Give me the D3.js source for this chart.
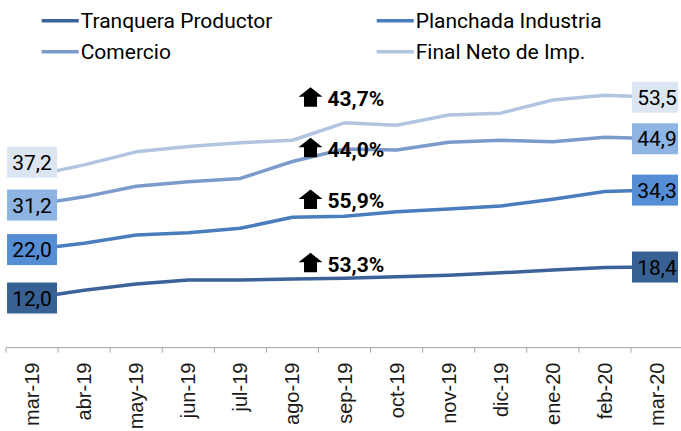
<!DOCTYPE html>
<html>
<head>
<meta charset="utf-8">
<script src="https://cdn.jsdelivr.net/npm/d3@7"></script>
<style>
  html, body { margin: 0; padding: 0; background: #fff; }
  svg { display: block; }
</style>
</head>
<body>
<svg id="chart" width="681" height="431"></svg>
<script>
// ---- data ----
const months = ["mar-19","abr-19","may-19","jun-19","jul-19","ago-19","sep-19","oct-19","nov-19","dic-19","ene-20","feb-20","mar-20"];
const seriesNames = ["Tranquera Productor","Planchada Industria","Comercio","Final Neto de Imp."];
const tranquera = [12.0,13.6,14.9,15.7,15.7,15.9,16.1,16.4,16.7,17.2,17.8,18.3,18.4];
const planchada = [22.0,23.3,25.0,25.5,26.4,28.7,28.9,29.8,30.4,31.0,32.4,34.0,34.3];
const comercio  = [31.2,32.9,35.1,36.0,36.7,40.2,42.8,42.6,44.2,44.6,44.3,45.2,44.9];
const finalNeto = [37.2,39.5,42.2,43.3,44.1,44.6,48.2,47.7,49.8,50.2,52.9,53.9,53.5];
const growthLabels = ["53,3%","55,9%","44,0%","43,7%"];
const growthLevels = [17.4,30.5,41.2,51.6];

// ---- styles ----
const lineColors = ["#3c6299","#4a7dbd","#7b9bcb","#b2c5e0"];
const boxColors  = ["#386193","#568ed6","#8eb4e3","#dce6f2"];
const allSeries = [tranquera, planchada, comercio, finalNeto];

const svg = d3.select("#chart");
const W = 681, H = 431;

const x = d3.scaleBand().domain(months).range([6, 6 + 13 * 52.08]).padding(0);
const y = d3.scaleLinear().domain([1.75, 60]).range([347.6, 65.7]);
const cx = m => x(m) + x.bandwidth() / 2;

// clip for right side
svg.append("clipPath").attr("id", "plotclip")
  .append("rect").attr("x", 0).attr("y", 0).attr("width", 678).attr("height", H);

// ---- x axis ----
const xAxis = d3.axisBottom(x).tickSize(0).tickFormat("");
const gx = svg.append("g").attr("transform", `translate(0,${y.range()[0]})`);
gx.append("line").attr("x1", x.range()[0]).attr("x2", W).attr("y1", 0).attr("y2", 0)
  .attr("stroke", "#a6a6a6").attr("stroke-width", 1);
gx.selectAll("line.tick").data(months).enter().append("line")
  .attr("class", "tick")
  .attr("x1", d => x(d)).attr("x2", d => x(d))
  .attr("y1", 0).attr("y2", 5)
  .attr("stroke", "#a6a6a6").attr("stroke-width", 1);
gx.selectAll("text").data(months).enter().append("text")
  .attr("transform", d => `translate(${cx(d)},15) rotate(-90)`)
  .attr("text-anchor", "end")
  .attr("dy", "0.35em")
  .attr("font-family", "'Liberation Sans', Arial, sans-serif")
  .attr("font-size", 20)
  .attr("fill", "#1a1a1a")
  .text(d => d);

// ---- lines ----
const line = d3.line().x((d, i) => cx(months[i])).y(d => y(d)).curve(d3.curveLinear);
svg.append("g").selectAll("path").data(allSeries).enter().append("path")
  .attr("d", d => line(d))
  .attr("fill", "none")
  .attr("stroke", (d, i) => lineColors[i])
  .attr("stroke-width", 3.5)
  .attr("stroke-linejoin", "round")
  .attr("stroke-linecap", "round");

// ---- end labels ----
const fmt = v => v.toFixed(1).replace(".", ",");
const boxW = 50, boxH = 31;
const labelG = svg.append("g").attr("clip-path", "url(#plotclip)");
allSeries.forEach((s, i) => {
  [0, s.length - 1].forEach(idx => {
    let py = y(s[idx]);
    // nudge to avoid crowding the first label of the top series
    if (idx === 0 && i === 3) py -= 14;
    const px = cx(months[idx]);
    labelG.append("rect")
      .attr("x", px - boxW / 2).attr("y", py - boxH / 2)
      .attr("width", boxW).attr("height", boxH)
      .attr("fill", boxColors[i]);
    labelG.append("text")
      .attr("x", px).attr("y", py)
      .attr("dy", "0.36em")
      .attr("text-anchor", "middle")
      .attr("font-family", "Roboto, sans-serif")
      .attr("font-size", 21)
      .attr("fill", "#000")
      .text(fmt(s[idx]));
  });
});

// ---- growth annotations ----
const annX = cx("sep-19") - 17;
const annG = svg.append("g");
growthLabels.forEach((t, i) => {
  const by = y(growthLevels[i]);
  const g = annG.append("g").attr("transform", `translate(${annX},${by})`);
  // up arrow
  g.append("path")
    .attr("d", "M-29,-9.5 L-17,-19 L-5,-9.5 L-10.5,-9.5 L-10.5,0.5 L-23.5,0.5 L-23.5,-9.5 Z")
    .attr("fill", "#000");
  g.append("text")
    .attr("x", 0).attr("y", 0)
    .attr("font-family", "Roboto, sans-serif")
    .attr("font-weight", "bold")
    .attr("font-size", 21)
    .attr("fill", "#000")
    .text(t);
});

// ---- legend ----
const legendPos = [
  {lx: 41.7, ly: 20.7}, {lx: 376.7, ly: 20.7},
  {lx: 41.7, ly: 51.7}, {lx: 376.7, ly: 51.7}
];
const lg = svg.append("g");
seriesNames.forEach((n, i) => {
  const p = legendPos[i];
  lg.append("line")
    .attr("x1", p.lx).attr("x2", p.lx + 37)
    .attr("y1", p.ly).attr("y2", p.ly)
    .attr("stroke", lineColors[i]).attr("stroke-width", 3.5);
  lg.append("text")
    .attr("x", p.lx + 39).attr("y", p.ly + 7.6)
    .attr("font-family", "Roboto, sans-serif")
    .attr("font-size", 21)
    .attr("fill", "#000")
    .text(n);
});
</script>
</body>
</html>
